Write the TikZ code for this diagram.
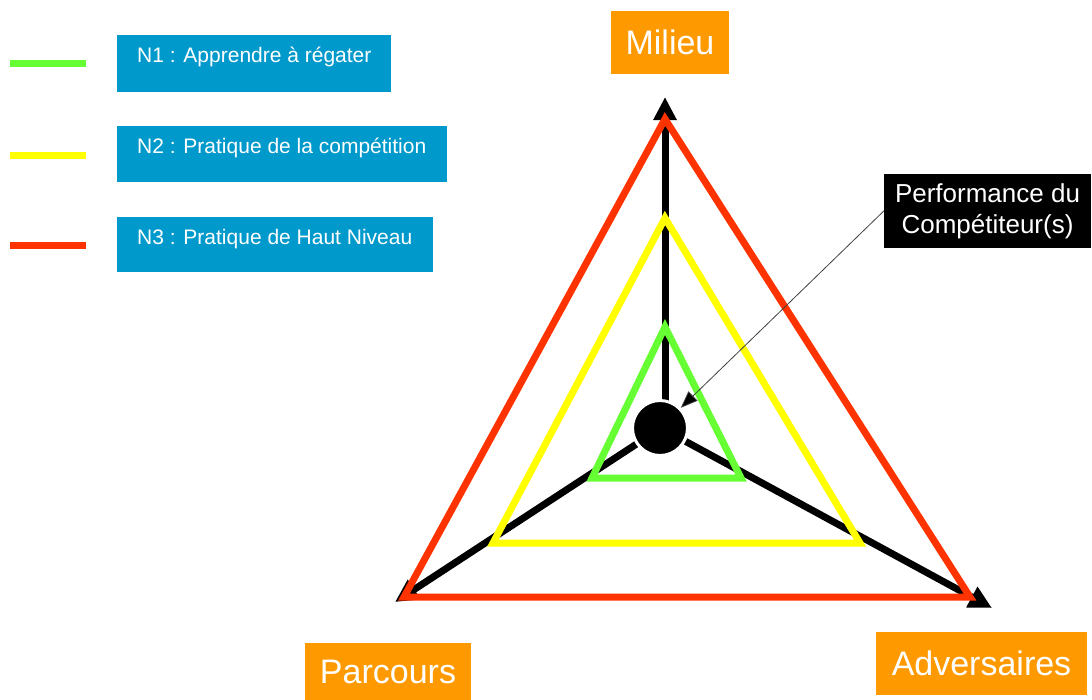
\documentclass[tikz,border=0pt]{standalone}
\usepackage{fontspec}
\setmainfont{Liberation Sans}
\usetikzlibrary{arrows.meta}
\definecolor{orng}{HTML}{FF9900}
\definecolor{blu}{HTML}{0099CC}
\definecolor{grn}{HTML}{66FF33}
\definecolor{yel}{HTML}{FFFF00}
\definecolor{rd}{HTML}{FF3300}
\tikzset{
  axis/.style={line width=7pt, draw=black, -{Triangle[length=23pt,width=22pt]}},
  tri/.style={line width=7pt, line join=miter},
  legline/.style={line width=7pt},
  legbox/.style={fill=blu, draw=none, anchor=north west, inner sep=0pt},
  legtext/.style={text=white, anchor=west, font=\fontsize{21}{25}\selectfont, inner sep=0pt},
  catbox/.style={fill=orng, text=white, inner sep=0pt, font=\fontsize{34}{40}\selectfont},
}
\begin{document}
\begin{tikzpicture}[x=1pt,y=-1pt]
\useasboundingbox (0,0) rectangle (1092,699);
% axes
\coordinate (c0) at (661,428);
\coordinate (cv) at (665,428);
\coordinate (ttop) at (665,97);
\coordinate (tll) at (395,602);
\coordinate (tlr) at (992,608);
\draw[axis] (cv) -- (ttop);
\draw[axis] (c0) -- (tll);
\draw[axis] (c0) -- (tlr);
% triangles
\draw[tri, rd] (665,119) -- (404,597) -- (970,597) -- cycle;
\draw[tri, yel] (665,218) -- (493,543) -- (860,543) -- cycle;
\draw[tri, grn] (665,327) -- (592,478) -- (741,478) -- cycle;
% center
\node[circle, fill=black, draw=white, line width=3pt, minimum size=55pt, inner sep=0pt] (circ) at (660,428) {};
% legend
\draw[legline, grn] (10,63) -- (86,63);
\draw[legline, yel] (10,155) -- (86,155);
\draw[legline, rd] (10,245) -- (86,245);
\node[legbox, minimum width=274pt, minimum height=57pt] (b1) at (117,35) {};
\node[legtext] (t1) at (137,57) {N1 : Apprendre à régater};
\node[legbox, minimum width=330pt, minimum height=56pt] (b2) at (117,126) {};
\node[legtext] (t2) at (137,148) {N2 : Pratique de la compétition};
\node[legbox, minimum width=316pt, minimum height=55pt] (b3) at (117,217) {};
\node[legtext] (t3) at (137,239) {N3 : Pratique de Haut Niveau};
% categories
\node[catbox, minimum width=118pt, minimum height=63pt] (milieu) at (670,42.5) {Milieu};
\node[catbox, minimum width=166pt, minimum height=58pt] (parcours) at (388,672) {Parcours};
\node[catbox, minimum width=211pt, minimum height=63pt] (adv) at (981.5,663.5) {Adversaires};
% performance
\node[fill=black, text=white, inner sep=0pt, minimum width=207pt, minimum height=74pt, align=center, font=\fontsize{26}{31}\selectfont] (perf) at (987.5,211) {Performance du\\Compétiteur(s)};
\draw[line width=0.8pt, draw=black!75, -{Triangle[length=17pt,width=13pt,fill=black]}] (perf.west) -- (circ);
\end{tikzpicture}
\end{document}
